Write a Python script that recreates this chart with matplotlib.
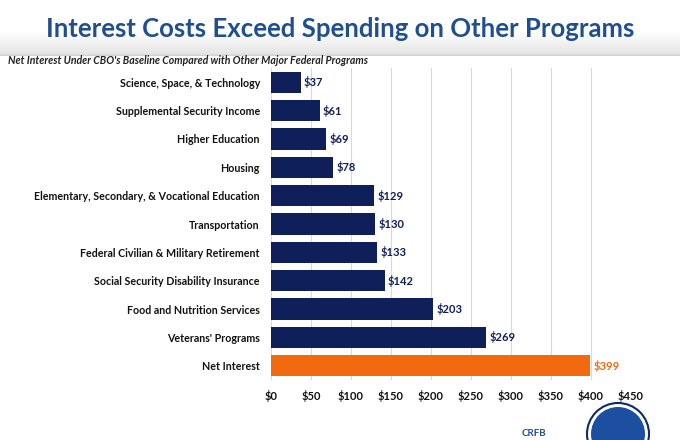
import numpy as np
import matplotlib
matplotlib.use("Agg")
import matplotlib.pyplot as plt
from matplotlib.patches import Circle

programs = [
    "Science, Space, & Technology",
    "Supplemental Security Income",
    "Higher Education",
    "Housing",
    "Elementary, Secondary, & Vocational Education",
    "Transportation",
    "Federal Civilian & Military Retirement",
    "Social Security Disability Insurance",
    "Food and Nutrition Services",
    "Veterans' Programs",
    "Net Interest",
]
spending = [37, 61, 69, 78, 129, 130, 133, 142, 203, 269, 399]
ticks = [0, 50, 100, 150, 200, 250, 300, 350, 400, 450]

navy = "#0f1f5a"
orange = "#f26a10"
title_blue = "#1f4e91"

plt.rcParams["font.family"] = ["Lato", "DejaVu Sans"]

fig = plt.figure(figsize=(6.8, 4.4), dpi=100)

# header band, white fading to light grey at the bottom
hdr = fig.add_axes([0, 1 - 56 / 440, 1, 56 / 440])
grad = np.concatenate([np.ones(55), np.linspace(1.0, 0.9, 40), np.linspace(0.9, 0.82, 5)]).reshape(-1, 1)
hdr.imshow(grad, cmap="gray", vmin=0, vmax=1, aspect="auto", extent=[0, 1, 0, 1])
hdr.axis("off")
fig.text(0.5, 1 - 29 / 440, "Interest Costs Exceed Spending on Other Programs",
         ha="center", va="center", fontsize=18.5, fontweight="bold", color=title_blue)
fig.text(8 / 680, 1 - 61 / 440, "Net Interest Under CBO's Baseline Compared with Other Major Federal Programs",
         ha="left", va="center", fontsize=7.6, fontweight="bold", style="italic", color="#222222")

ax = fig.add_axes([271 / 680, 1 - 380 / 440, 360 / 680, 312 / 440])
y = np.arange(len(programs))
colors = [navy] * (len(programs) - 1) + [orange]
ax.barh(y, spending, height=0.75, color=colors, zorder=3)
for yi, v, c in zip(y, spending, colors):
    ax.text(v + 4, yi, f"${v}", va="center", ha="left", fontsize=8,
            fontweight="bold", color=c)

ax.set_ylim(len(programs) - 0.5, -0.5)
ax.set_xlim(0, 450)
ax.set_yticks(y)
ax.set_yticklabels(programs, fontsize=7.7, fontweight="bold", color="#111111")
ax.set_xticks(ticks)
ax.set_xticklabels([f"${t}" for t in ticks], fontsize=8, fontweight="bold", color="#111111")
ax.tick_params(length=0, pad=8)
ax.tick_params(axis="x", pad=7)
ax.grid(axis="x", color="#d9d9d9", linewidth=0.8, zorder=0)
for s in ax.spines.values():
    s.set_visible(False)

# logo badge, bottom right
ax_logo = fig.add_axes([0, 0, 1, 1], facecolor="none")
ax_logo.set_xlim(0, 680)
ax_logo.set_ylim(440, 0)
ax_logo.axis("off")
ax_logo.add_patch(Circle((618, 434), 31, facecolor="#ffffff", edgecolor="#0f2a6a", linewidth=1.5))
ax_logo.add_patch(Circle((618, 434), 27, facecolor="#1d4fa0", edgecolor="none"))
ax_logo.text(522, 433, "CRFB", fontsize=7, fontweight="bold", color="#1d4fa0", ha="left", va="center")

fig.savefig("out.png", dpi=100)
